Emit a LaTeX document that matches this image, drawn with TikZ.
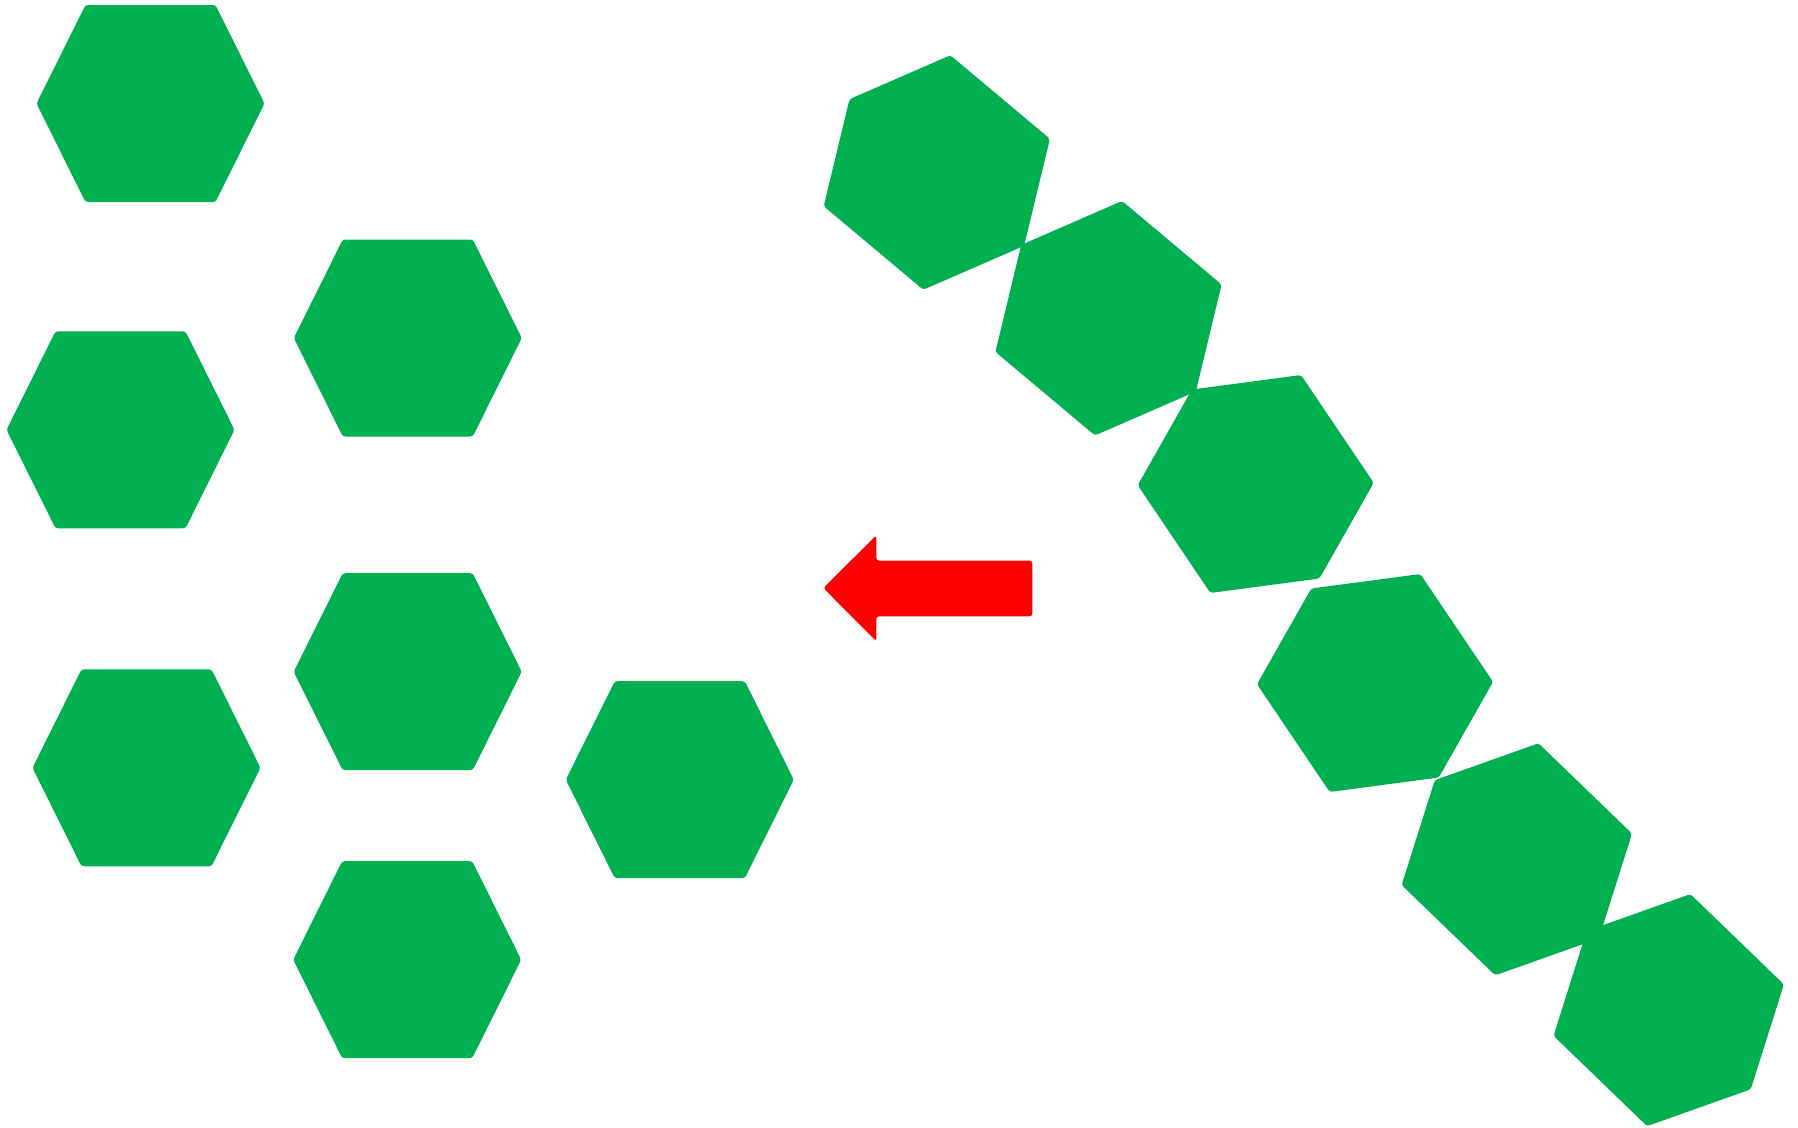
\documentclass[tikz,border=0pt]{standalone}
\usepackage{tikz}
\usetikzlibrary{positioning}
\definecolor{hexgreen}{HTML}{00B050}
\definecolor{arrowred}{HTML}{FF0000}

\begin{document}
\begin{tikzpicture}[
  x=0.01cm, y=-0.01cm,
  hexfill/.style={fill=hexgreen, rounded corners=0.8pt},
  arrowfill/.style={fill=arrowred, rounded corners=0.8pt},
  hexa/.pic={\fill[hexfill] (-114,0) -- (-65,-98.5) -- (65,-98.5) -- (114,0) -- (65,98.5) -- (-65,98.5) -- cycle;}
]
% Canvas: 1798 x 1127 px, origin top left, y downwards
\useasboundingbox (0,0) rectangle (1798,1127);

% Hexagon centres, loose group on the left
\coordinate (hexOne)   at (150.5,103.5);
\coordinate (hexTwo)   at (407.8,338);
\coordinate (hexThree) at (120.5,429.8);
\coordinate (hexFour)  at (407.7,671.7);
\coordinate (hexFive)  at (146.5,767.8);
\coordinate (hexSix)   at (679.8,779.7);
\coordinate (hexSeven) at (407.2,959.7);

\foreach \h in {hexOne,hexTwo,hexThree,hexFour,hexFive,hexSix,hexSeven}
  \pic at (\h) {hexa};

% Chain of turned hexagons on the right
\coordinate (chainA) at (936.8,172.5);
\coordinate (chainB) at (1108.5,318.2);
\coordinate (chainC) at (1255.7,484);
\coordinate (chainD) at (1375,683);
\coordinate (chainE) at (1516.8,859.3);
\coordinate (chainF) at (1668.7,1010.1);

\foreach \h/\a in {chainA/-40,chainB/-40,chainC/-56,chainD/-56,chainE/-44,chainF/-44}
  \pic[rotate=\a] at (\h) {hexa};

% Block arrow pointing left
\coordinate (arrowTip) at (823.3,588);
\fill[arrowfill] (arrowTip) -- (876.3,535.3) -- (876.3,560.7) -- (1032.3,560.7)
  -- (1032.3,616.3) -- (876.3,616.3) -- (876.3,641.3) -- cycle;

\end{tikzpicture}
\end{document}
